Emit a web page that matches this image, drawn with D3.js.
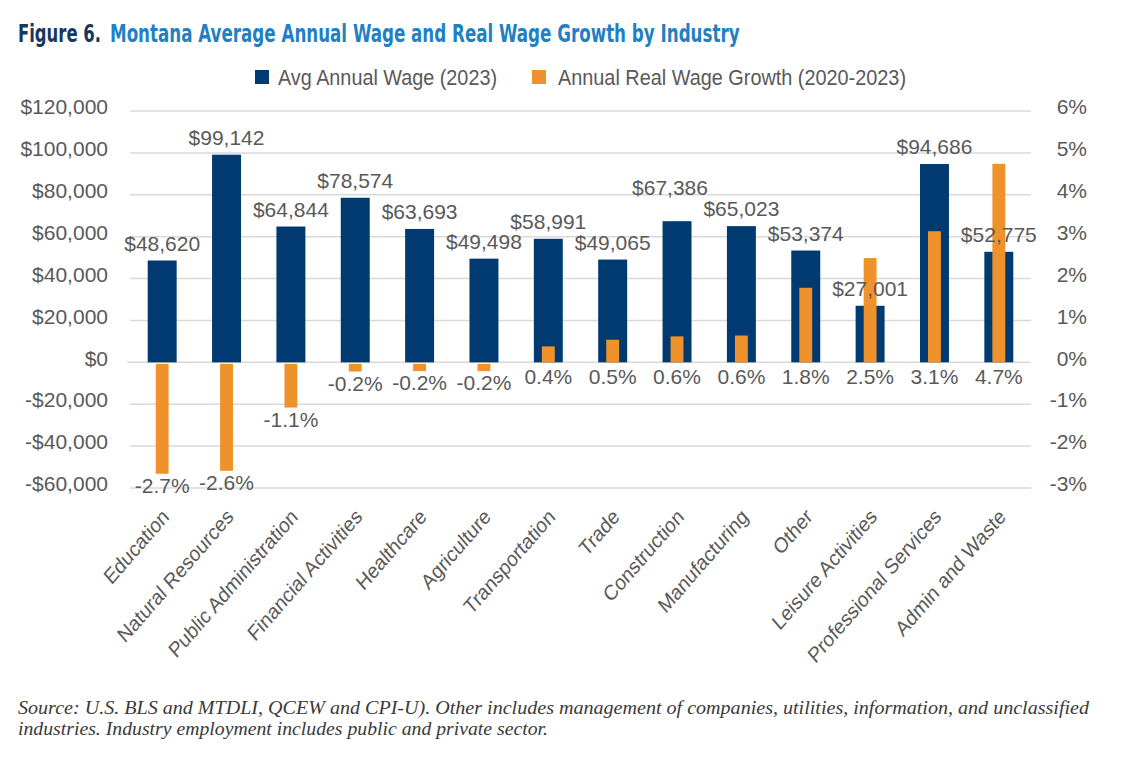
<!DOCTYPE html>
<html>
<head>
<meta charset="utf-8">
<script src="https://cdn.jsdelivr.net/npm/d3@7"></script>
<style>
  body { margin: 0; background: #fff; }
  svg { display: block; }
</style>
</head>
<body>
<svg id="chart"></svg>
<script>
// Data
const industries = ["Education", "Natural Resources", "Public Administration", "Financial Activities",
  "Healthcare", "Agriculture", "Transportation", "Trade", "Construction", "Manufacturing",
  "Other", "Leisure Activities", "Professional Services", "Admin and Waste"];
const avgWage = [48620, 99142, 64844, 78574, 63693, 49498, 58991, 49065, 67386, 65023, 53374, 27001, 94686, 52775];
const wageGrowth = [-2.66, -2.59, -1.08, -0.22, -0.21, -0.21, 0.38, 0.54, 0.62, 0.64, 1.78, 2.49, 3.13, 4.74];
const wageTicks = [-60000, -40000, -20000, 0, 20000, 40000, 60000, 80000, 100000, 120000];
const pctTicks = [-3, -2, -1, 0, 1, 2, 3, 4, 5, 6];

const width = 1124, height = 768;
const margin = { top: 111, right: 93, bottom: 281, left: 130 };
const navy = "#003a70", orange = "#f0922b", grey = "#595959";
const narrow = "'Liberation Sans Narrow', 'DejaVu Sans Condensed', 'Arial Narrow', sans-serif";
const sans = "'Liberation Sans', Arial, sans-serif";
const stretch = 1.15; // the chart art is a bit taller than wide

const svg = d3.select("#chart")
  .attr("width", width)
  .attr("height", height)
  .style("background", "#fff");

const x = d3.scaleBand()
  .domain(industries)
  .range([margin.left, width - margin.right]);

const yWage = d3.scaleLinear()
  .domain([-60000, 120000])
  .range([height - margin.bottom + 1, margin.top]);

const yPct = d3.scaleLinear()
  .domain([-3, 6])
  .range(yWage.range());

// gridlines
svg.append("g")
  .selectAll("line")
  .data(wageTicks)
  .enter()
  .append("line")
  .attr("x1", d => d === 0 ? margin.left - 3 : margin.left)
  .attr("x2", width - margin.right)
  .attr("y1", d => yWage(d))
  .attr("y2", d => yWage(d))
  .attr("stroke", "#d9d9d9")
  .attr("stroke-width", 1.5);

// left axis
const money = d3.format(",");
const leftAxis = svg.append("g")
  .attr("transform", `translate(${margin.left - 22},0)`)
  .call(d3.axisLeft(yWage).tickValues(wageTicks).tickSize(0).tickPadding(0)
    .tickFormat(d => (d < 0 ? "-$" : "$") + money(Math.abs(d))));
leftAxis.select(".domain").remove();
leftAxis.selectAll("text")
  .attr("dy", "0.32em")
  .attr("y", -4)
  .attr("fill", grey)
  .style("font-family", sans)
  .style("font-size", "21px");

// right axis
const rightAxis = svg.append("g")
  .attr("transform", `translate(${width - 37},0)`)
  .call(d3.axisLeft(yPct).tickValues(pctTicks).tickSize(0).tickPadding(0)
    .tickFormat(d => (d < 0 ? "-" : "") + Math.abs(d) + "%"));
rightAxis.select(".domain").remove();
rightAxis.selectAll("text")
  .attr("dy", "0.32em")
  .attr("y", -4)
  .attr("fill", grey)
  .style("font-family", sans)
  .style("font-size", "21px");

const wageW = x.bandwidth() * 0.45;
const pctW = x.bandwidth() * 0.2;

// wage bars
svg.append("g")
  .selectAll("rect")
  .data(avgWage)
  .enter()
  .append("rect")
  .attr("x", (d, i) => x(industries[i]) + (x.bandwidth() - wageW) / 2)
  .attr("y", d => yWage(d))
  .attr("width", wageW)
  .attr("height", d => yWage(0) - yWage(d))
  .attr("fill", navy);

// growth bars
svg.append("g")
  .selectAll("rect")
  .data(wageGrowth)
  .enter()
  .append("rect")
  .attr("x", (d, i) => x(industries[i]) + (x.bandwidth() - pctW) / 2)
  .attr("y", d => d >= 0 ? yPct(d) : yPct(0) + 1.5)
  .attr("width", pctW)
  .attr("height", d => Math.abs(yPct(d) - yPct(0)) - (d < 0 ? 1.5 : 0))
  .attr("fill", orange);

// wage labels (Construction's label was dragged up-left in the original)
const nudge = { "Construction": [-7, -16] };
svg.append("g")
  .selectAll("text")
  .data(avgWage)
  .enter()
  .append("text")
  .attr("x", (d, i) => x(industries[i]) + x.bandwidth() / 2 + (nudge[industries[i]] || [0, 0])[0])
  .attr("y", (d, i) => yWage(d) - 10 + (nudge[industries[i]] || [0, 0])[1])
  .attr("text-anchor", "middle")
  .attr("fill", grey)
  .style("font-family", sans)
  .style("font-size", "21px")
  .text(d => "$" + money(d));

// growth labels
svg.append("g")
  .selectAll("text")
  .data(wageGrowth)
  .enter()
  .append("text")
  .attr("x", (d, i) => x(industries[i]) + x.bandwidth() / 2)
  .attr("y", d => d < 0 ? yPct(d) + 19 : yPct(0) + 22)
  .attr("text-anchor", "middle")
  .attr("fill", grey)
  .style("font-family", sans)
  .style("font-size", "21px")
  .text(d => d.toFixed(1) + "%");

// category labels
svg.append("g")
  .selectAll("text")
  .data(industries)
  .enter()
  .append("text")
  .attr("transform", d => `translate(${x(d) + x.bandwidth() / 2 + 8},${yWage(-60000) + 30}) scale(1,${stretch}) rotate(-45)`)
  .attr("text-anchor", "end")
  .attr("fill", grey)
  .style("font-family", sans)
  .style("font-size", "18.7px")
  .text(d => d);

// title: two pieces squeezed to the widths of the original
const titleParts = [
  { text: "Figure 6.", color: "#17375e", x: 18, len: 83 },
  { text: "Montana Average Annual Wage and Real Wage Growth by Industry", color: "#1f80c4", x: 110, len: 630 }
];
titleParts.forEach(p => {
  const g = svg.append("g");
  const t = g.append("text")
    .attr("fill", p.color)
    .style("font-family", narrow)
    .style("font-weight", "bold")
    .style("font-size", "25px")
    .text(p.text);
  const k = p.len / t.node().getComputedTextLength();
  g.attr("transform", `translate(${p.x},42) scale(${k},1)`);
});

// legend
const legendItems = [
  { label: "Avg Annual Wage (2023)", color: navy, x: 255, tx: 278, len: 219 },
  { label: "Annual Real Wage Growth (2020-2023)", color: orange, x: 532, tx: 558, len: 348 }
];
const legend = svg.append("g");
legend.selectAll("rect")
  .data(legendItems)
  .enter()
  .append("rect")
  .attr("x", d => d.x).attr("y", 70)
  .attr("width", 14).attr("height", 14)
  .attr("fill", d => d.color);
legend.selectAll("text")
  .data(legendItems)
  .enter()
  .append("text")
  .attr("transform", d => `translate(${d.tx},85) scale(1,${stretch})`)
  .attr("textLength", d => d.len)
  .attr("lengthAdjust", "spacingAndGlyphs")
  .attr("fill", grey)
  .style("font-family", sans)
  .style("font-size", "19.6px")
  .text(d => d.label);

// footnote
const notes = [
  { text: "Source: U.S. BLS and MTDLI, QCEW and CPI-U). Other includes management of companies, utilities, information, and unclassified", y: 714, len: 1071 },
  { text: "industries. Industry employment includes public and private sector.", y: 735, len: 530 }
];
svg.append("g")
  .selectAll("text")
  .data(notes)
  .enter()
  .append("text")
  .attr("x", 18).attr("y", d => d.y)
  .attr("textLength", d => d.len)
  .attr("lengthAdjust", "spacingAndGlyphs")
  .attr("fill", "#3a3a3a")
  .style("font-family", "'Liberation Serif', 'DejaVu Serif', serif")
  .style("font-style", "italic")
  .style("font-size", "18.5px")
  .text(d => d.text);
</script>
</body>
</html>
